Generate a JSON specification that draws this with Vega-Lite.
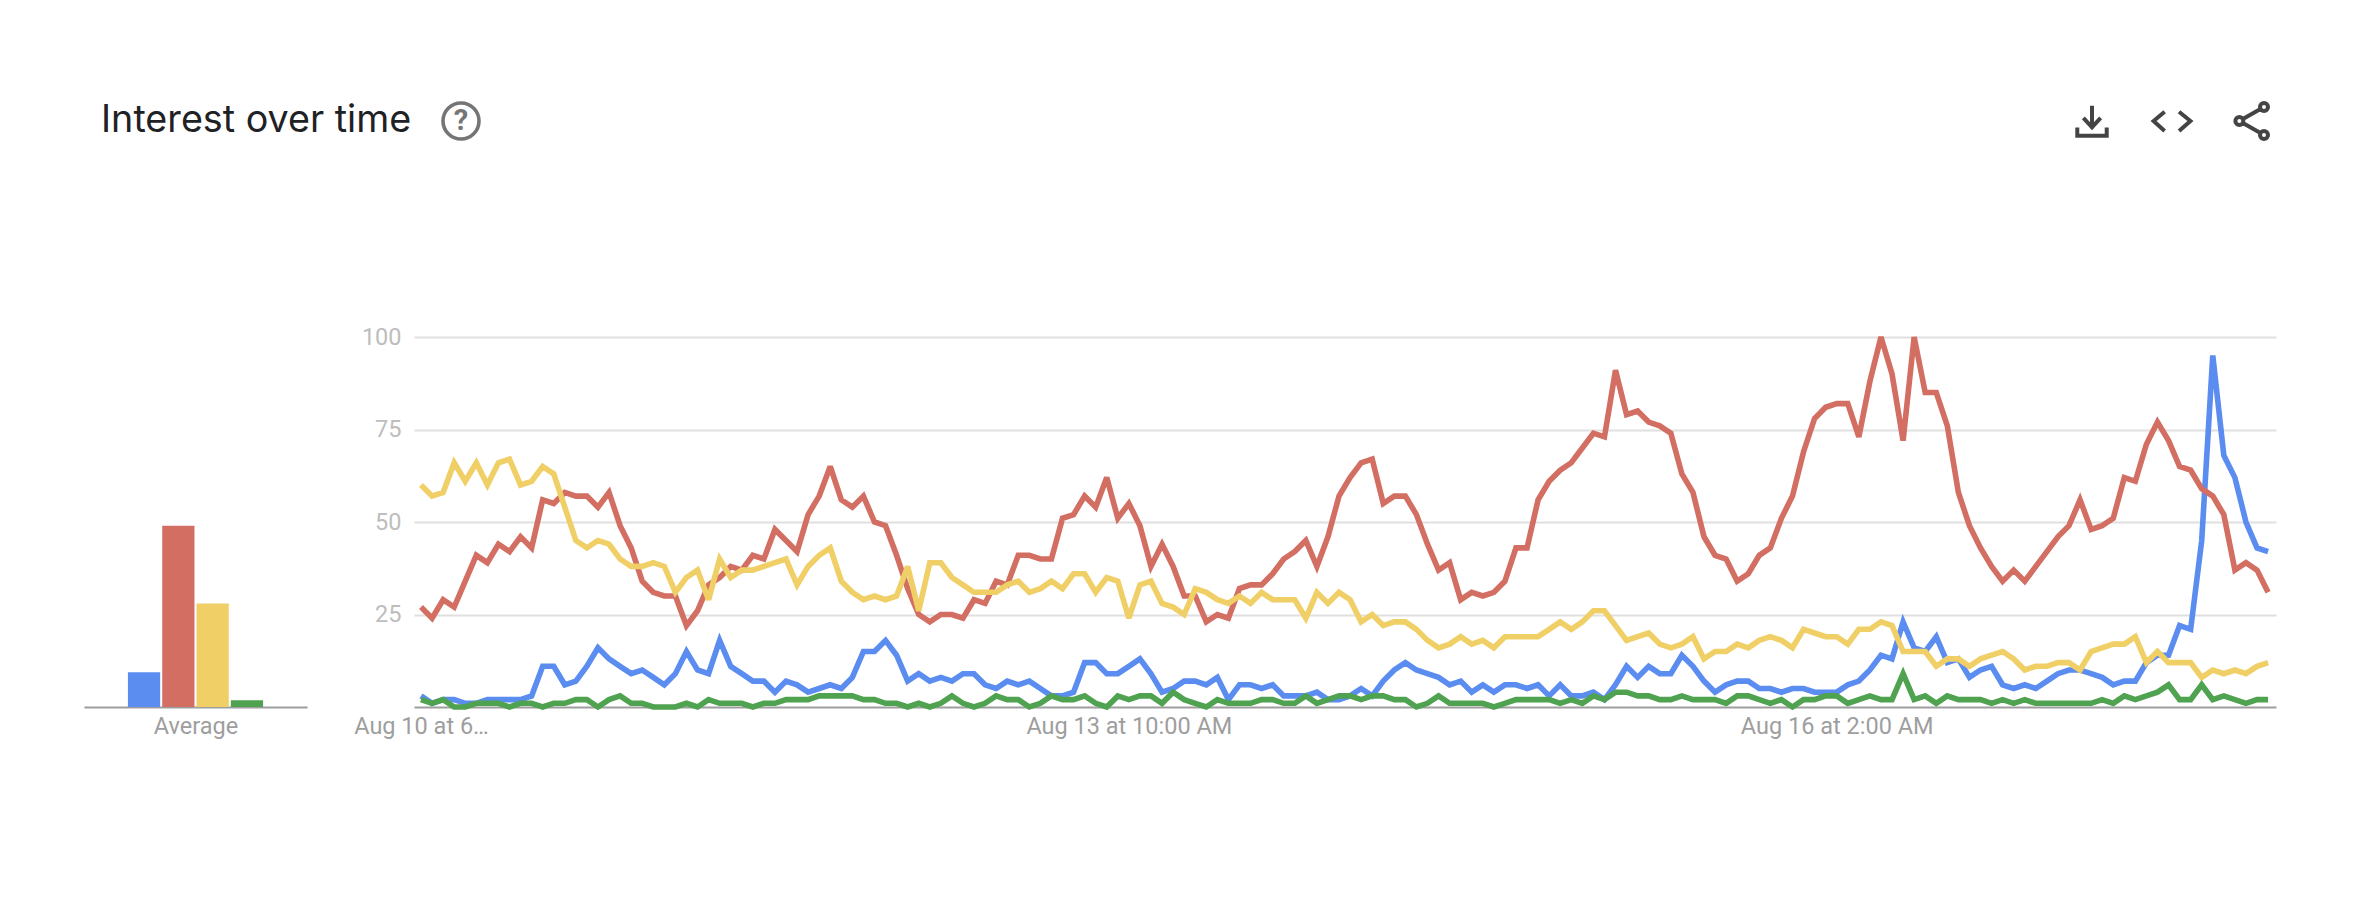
{
"$schema":"https://vega.github.io/schema/vega-lite/v6.json",
"background":"white",
"padding":{"left":84,"top":60,"right":100,"bottom":165},
"config":{"view":{"stroke":null},"font":"Roboto"},
"bounds":"flush",
"spacing":155,
"vconcat":[
{"width":2192,"height":122,
 "layer":[
  {"data":{"values":[{"label":"Interest over time"}]},
   "mark":{"type":"text","align":"left","baseline":"middle","font":"Inter","fontSize":37.7,"color":"#202124"},
   "encoding":{"x":{"field":"label","type":"nominal","axis":null,"scale":{"type":"point","domain":["Interest over time"],"range":[17,17],"padding":0}},"text":{"field":"label"}}},
  {"data":{"values":[{"icon":"help"}]},
   "mark":{"type":"point","shape":"circle","filled":false,"stroke":"#757575","strokeWidth":3.6,"size":1296,"opacity":1},
   "encoding":{"x":{"field":"icon","type":"nominal","axis":null,"scale":{"type":"point","domain":["help"],"range":[377,377],"padding":0}}}},
  {"data":{"values":[{"label":"?"}]},
   "mark":{"type":"text","align":"center","baseline":"middle","font":"Roboto","fontWeight":700,"fontSize":29,"color":"#757575"},
   "encoding":{"x":{"field":"label","type":"nominal","axis":null,"scale":{"type":"point","domain":["?"],"range":[377,377],"padding":0}},"text":{"field":"label"}}},
  {"data":{"values":[{"icon":"download"},{"icon":"code"},{"icon":"share"}]},
   "mark":{"type":"point","filled":false,"stroke":"#444444","strokeWidth":4,"size":1024,"opacity":1},
   "encoding":{
    "x":{"field":"icon","type":"nominal","axis":null,"scale":{"type":"point","domain":["download","code","share"],"range":[2008,2168],"padding":0}},
    "shape":{"field":"icon","type":"nominal","legend":null,"scale":{"domain":["download","code","share"],"range":[
     "M0,-0.96L0,0.38M-0.54,-0.19L0,0.4L0.54,-0.19M-0.92,0.4L-0.92,0.92L0.92,0.92L0.92,0.4",
     "M-0.46,-0.58L-1.15,0L-0.46,0.62M0.44,-0.58L1.15,0L0.44,0.62",
     "M-1.04,0a0.25,0.25 0 1,0 0.5,0a0.25,0.25 0 1,0 -0.5,0M0.5,-0.875a0.25,0.25 0 1,0 0.5,0a0.25,0.25 0 1,0 -0.5,0M0.5,0.875a0.25,0.25 0 1,0 0.5,0a0.25,0.25 0 1,0 -0.5,0M-0.57,-0.12L0.53,-0.75M-0.57,0.12L0.53,0.75"
    ]}}}}
 ],
 "resolve":{"scale":{"x":"independent"}}
},
{"bounds":"flush","spacing":107,
 "resolve":{"scale":{"color":"shared","y":"independent"}},
 "hconcat":[
 {"width":223,"height":370,
  "data":{"values":[{"term":"Blue","average":9.4},{"term":"Red","average":49},{"term":"Yellow","average":28},{"term":"Green","average":1.8}]},
  "mark":{"type":"bar"},
  "encoding":{
   "x":{"field":"term","type":"nominal","scale":{"domain":[" ","Blue","Red","Yellow","Green","  "],"paddingInner":0.06,"paddingOuter":0.28},
    "axis":{"labels":false,"ticks":false,"title":"Average","titleFont":"Roboto","titleFontSize":23.5,"titleFontWeight":"normal","titleColor":"#9e9e9e","titlePadding":7,"domainColor":"#9e9e9e","domainWidth":2}},
   "y":{"field":"average","type":"quantitative","scale":{"domain":[0,100]},"axis":null},
   "color":{"field":"term","type":"nominal","legend":null,"scale":{"domain":["Blue","Red","Yellow","Green"],"range":["#5b8cf0","#d36e63","#f0cf66","#4fa24f"]}}
  }},
 {"width":1862,"height":370,
  "data":{"values":[
{"t":"2020-08-10T18:00","Blue":3,"Red":27,"Yellow":60,"Green":2},
{"t":"2020-08-10T19:00","Blue":1,"Red":24,"Yellow":57,"Green":1},
{"t":"2020-08-10T20:00","Blue":2,"Red":29,"Yellow":58,"Green":2},
{"t":"2020-08-10T21:00","Blue":2,"Red":27,"Yellow":66,"Green":0},
{"t":"2020-08-10T22:00","Blue":1,"Red":34,"Yellow":61,"Green":0},
{"t":"2020-08-10T23:00","Blue":1,"Red":41,"Yellow":66,"Green":1},
{"t":"2020-08-11T00:00","Blue":2,"Red":39,"Yellow":60,"Green":1},
{"t":"2020-08-11T01:00","Blue":2,"Red":44,"Yellow":66,"Green":1},
{"t":"2020-08-11T02:00","Blue":2,"Red":42,"Yellow":67,"Green":0},
{"t":"2020-08-11T03:00","Blue":2,"Red":46,"Yellow":60,"Green":1},
{"t":"2020-08-11T04:00","Blue":3,"Red":43,"Yellow":61,"Green":1},
{"t":"2020-08-11T05:00","Blue":11,"Red":56,"Yellow":65,"Green":0},
{"t":"2020-08-11T06:00","Blue":11,"Red":55,"Yellow":63,"Green":1},
{"t":"2020-08-11T07:00","Blue":6,"Red":58,"Yellow":54,"Green":1},
{"t":"2020-08-11T08:00","Blue":7,"Red":57,"Yellow":45,"Green":2},
{"t":"2020-08-11T09:00","Blue":11,"Red":57,"Yellow":43,"Green":2},
{"t":"2020-08-11T10:00","Blue":16,"Red":54,"Yellow":45,"Green":0},
{"t":"2020-08-11T11:00","Blue":13,"Red":58,"Yellow":44,"Green":2},
{"t":"2020-08-11T12:00","Blue":11,"Red":49,"Yellow":40,"Green":3},
{"t":"2020-08-11T13:00","Blue":9,"Red":43,"Yellow":38,"Green":1},
{"t":"2020-08-11T14:00","Blue":10,"Red":34,"Yellow":38,"Green":1},
{"t":"2020-08-11T15:00","Blue":8,"Red":31,"Yellow":39,"Green":0},
{"t":"2020-08-11T16:00","Blue":6,"Red":30,"Yellow":38,"Green":0},
{"t":"2020-08-11T17:00","Blue":9,"Red":30,"Yellow":31,"Green":0},
{"t":"2020-08-11T18:00","Blue":15,"Red":22,"Yellow":35,"Green":1},
{"t":"2020-08-11T19:00","Blue":10,"Red":26,"Yellow":37,"Green":0},
{"t":"2020-08-11T20:00","Blue":9,"Red":33,"Yellow":29,"Green":2},
{"t":"2020-08-11T21:00","Blue":18,"Red":35,"Yellow":40,"Green":1},
{"t":"2020-08-11T22:00","Blue":11,"Red":38,"Yellow":35,"Green":1},
{"t":"2020-08-11T23:00","Blue":9,"Red":37,"Yellow":37,"Green":1},
{"t":"2020-08-12T00:00","Blue":7,"Red":41,"Yellow":37,"Green":0},
{"t":"2020-08-12T01:00","Blue":7,"Red":40,"Yellow":38,"Green":1},
{"t":"2020-08-12T02:00","Blue":4,"Red":48,"Yellow":39,"Green":1},
{"t":"2020-08-12T03:00","Blue":7,"Red":45,"Yellow":40,"Green":2},
{"t":"2020-08-12T04:00","Blue":6,"Red":42,"Yellow":33,"Green":2},
{"t":"2020-08-12T05:00","Blue":4,"Red":52,"Yellow":38,"Green":2},
{"t":"2020-08-12T06:00","Blue":5,"Red":57,"Yellow":41,"Green":3},
{"t":"2020-08-12T07:00","Blue":6,"Red":65,"Yellow":43,"Green":3},
{"t":"2020-08-12T08:00","Blue":5,"Red":56,"Yellow":34,"Green":3},
{"t":"2020-08-12T09:00","Blue":8,"Red":54,"Yellow":31,"Green":3},
{"t":"2020-08-12T10:00","Blue":15,"Red":57,"Yellow":29,"Green":2},
{"t":"2020-08-12T11:00","Blue":15,"Red":50,"Yellow":30,"Green":2},
{"t":"2020-08-12T12:00","Blue":18,"Red":49,"Yellow":29,"Green":1},
{"t":"2020-08-12T13:00","Blue":14,"Red":41,"Yellow":30,"Green":1},
{"t":"2020-08-12T14:00","Blue":7,"Red":32,"Yellow":38,"Green":0},
{"t":"2020-08-12T15:00","Blue":9,"Red":25,"Yellow":26,"Green":1},
{"t":"2020-08-12T16:00","Blue":7,"Red":23,"Yellow":39,"Green":0},
{"t":"2020-08-12T17:00","Blue":8,"Red":25,"Yellow":39,"Green":1},
{"t":"2020-08-12T18:00","Blue":7,"Red":25,"Yellow":35,"Green":3},
{"t":"2020-08-12T19:00","Blue":9,"Red":24,"Yellow":33,"Green":1},
{"t":"2020-08-12T20:00","Blue":9,"Red":29,"Yellow":31,"Green":0},
{"t":"2020-08-12T21:00","Blue":6,"Red":28,"Yellow":31,"Green":1},
{"t":"2020-08-12T22:00","Blue":5,"Red":34,"Yellow":31,"Green":3},
{"t":"2020-08-12T23:00","Blue":7,"Red":33,"Yellow":33,"Green":2},
{"t":"2020-08-13T00:00","Blue":6,"Red":41,"Yellow":34,"Green":2},
{"t":"2020-08-13T01:00","Blue":7,"Red":41,"Yellow":31,"Green":0},
{"t":"2020-08-13T02:00","Blue":5,"Red":40,"Yellow":32,"Green":1},
{"t":"2020-08-13T03:00","Blue":3,"Red":40,"Yellow":34,"Green":3},
{"t":"2020-08-13T04:00","Blue":3,"Red":51,"Yellow":32,"Green":2},
{"t":"2020-08-13T05:00","Blue":4,"Red":52,"Yellow":36,"Green":2},
{"t":"2020-08-13T06:00","Blue":12,"Red":57,"Yellow":36,"Green":3},
{"t":"2020-08-13T07:00","Blue":12,"Red":54,"Yellow":31,"Green":1},
{"t":"2020-08-13T08:00","Blue":9,"Red":62,"Yellow":35,"Green":0},
{"t":"2020-08-13T09:00","Blue":9,"Red":51,"Yellow":34,"Green":3},
{"t":"2020-08-13T10:00","Blue":11,"Red":55,"Yellow":24,"Green":2},
{"t":"2020-08-13T11:00","Blue":13,"Red":49,"Yellow":33,"Green":3},
{"t":"2020-08-13T12:00","Blue":9,"Red":38,"Yellow":34,"Green":3},
{"t":"2020-08-13T13:00","Blue":4,"Red":44,"Yellow":28,"Green":1},
{"t":"2020-08-13T14:00","Blue":5,"Red":38,"Yellow":27,"Green":4},
{"t":"2020-08-13T15:00","Blue":7,"Red":30,"Yellow":25,"Green":2},
{"t":"2020-08-13T16:00","Blue":7,"Red":30,"Yellow":32,"Green":1},
{"t":"2020-08-13T17:00","Blue":6,"Red":23,"Yellow":31,"Green":0},
{"t":"2020-08-13T18:00","Blue":8,"Red":25,"Yellow":29,"Green":2},
{"t":"2020-08-13T19:00","Blue":2,"Red":24,"Yellow":28,"Green":1},
{"t":"2020-08-13T20:00","Blue":6,"Red":32,"Yellow":30,"Green":1},
{"t":"2020-08-13T21:00","Blue":6,"Red":33,"Yellow":28,"Green":1},
{"t":"2020-08-13T22:00","Blue":5,"Red":33,"Yellow":31,"Green":2},
{"t":"2020-08-13T23:00","Blue":6,"Red":36,"Yellow":29,"Green":2},
{"t":"2020-08-14T00:00","Blue":3,"Red":40,"Yellow":29,"Green":1},
{"t":"2020-08-14T01:00","Blue":3,"Red":42,"Yellow":29,"Green":1},
{"t":"2020-08-14T02:00","Blue":3,"Red":45,"Yellow":24,"Green":3},
{"t":"2020-08-14T03:00","Blue":4,"Red":38,"Yellow":31,"Green":1},
{"t":"2020-08-14T04:00","Blue":2,"Red":46,"Yellow":28,"Green":2},
{"t":"2020-08-14T05:00","Blue":2,"Red":57,"Yellow":31,"Green":3},
{"t":"2020-08-14T06:00","Blue":3,"Red":62,"Yellow":29,"Green":3},
{"t":"2020-08-14T07:00","Blue":5,"Red":66,"Yellow":23,"Green":2},
{"t":"2020-08-14T08:00","Blue":3,"Red":67,"Yellow":25,"Green":3},
{"t":"2020-08-14T09:00","Blue":7,"Red":55,"Yellow":22,"Green":3},
{"t":"2020-08-14T10:00","Blue":10,"Red":57,"Yellow":23,"Green":2},
{"t":"2020-08-14T11:00","Blue":12,"Red":57,"Yellow":23,"Green":2},
{"t":"2020-08-14T12:00","Blue":10,"Red":52,"Yellow":21,"Green":0},
{"t":"2020-08-14T13:00","Blue":9,"Red":44,"Yellow":18,"Green":1},
{"t":"2020-08-14T14:00","Blue":8,"Red":37,"Yellow":16,"Green":3},
{"t":"2020-08-14T15:00","Blue":6,"Red":39,"Yellow":17,"Green":1},
{"t":"2020-08-14T16:00","Blue":7,"Red":29,"Yellow":19,"Green":1},
{"t":"2020-08-14T17:00","Blue":4,"Red":31,"Yellow":17,"Green":1},
{"t":"2020-08-14T18:00","Blue":6,"Red":30,"Yellow":18,"Green":1},
{"t":"2020-08-14T19:00","Blue":4,"Red":31,"Yellow":16,"Green":0},
{"t":"2020-08-14T20:00","Blue":6,"Red":34,"Yellow":19,"Green":1},
{"t":"2020-08-14T21:00","Blue":6,"Red":43,"Yellow":19,"Green":2},
{"t":"2020-08-14T22:00","Blue":5,"Red":43,"Yellow":19,"Green":2},
{"t":"2020-08-14T23:00","Blue":6,"Red":56,"Yellow":19,"Green":2},
{"t":"2020-08-15T00:00","Blue":3,"Red":61,"Yellow":21,"Green":2},
{"t":"2020-08-15T01:00","Blue":6,"Red":64,"Yellow":23,"Green":1},
{"t":"2020-08-15T02:00","Blue":3,"Red":66,"Yellow":21,"Green":2},
{"t":"2020-08-15T03:00","Blue":3,"Red":70,"Yellow":23,"Green":1},
{"t":"2020-08-15T04:00","Blue":4,"Red":74,"Yellow":26,"Green":3},
{"t":"2020-08-15T05:00","Blue":2,"Red":73,"Yellow":26,"Green":2},
{"t":"2020-08-15T06:00","Blue":6,"Red":91,"Yellow":22,"Green":4},
{"t":"2020-08-15T07:00","Blue":11,"Red":79,"Yellow":18,"Green":4},
{"t":"2020-08-15T08:00","Blue":8,"Red":80,"Yellow":19,"Green":3},
{"t":"2020-08-15T09:00","Blue":11,"Red":77,"Yellow":20,"Green":3},
{"t":"2020-08-15T10:00","Blue":9,"Red":76,"Yellow":17,"Green":2},
{"t":"2020-08-15T11:00","Blue":9,"Red":74,"Yellow":16,"Green":2},
{"t":"2020-08-15T12:00","Blue":14,"Red":63,"Yellow":17,"Green":3},
{"t":"2020-08-15T13:00","Blue":11,"Red":58,"Yellow":19,"Green":2},
{"t":"2020-08-15T14:00","Blue":7,"Red":46,"Yellow":13,"Green":2},
{"t":"2020-08-15T15:00","Blue":4,"Red":41,"Yellow":15,"Green":2},
{"t":"2020-08-15T16:00","Blue":6,"Red":40,"Yellow":15,"Green":1},
{"t":"2020-08-15T17:00","Blue":7,"Red":34,"Yellow":17,"Green":3},
{"t":"2020-08-15T18:00","Blue":7,"Red":36,"Yellow":16,"Green":3},
{"t":"2020-08-15T19:00","Blue":5,"Red":41,"Yellow":18,"Green":2},
{"t":"2020-08-15T20:00","Blue":5,"Red":43,"Yellow":19,"Green":1},
{"t":"2020-08-15T21:00","Blue":4,"Red":51,"Yellow":18,"Green":2},
{"t":"2020-08-15T22:00","Blue":5,"Red":57,"Yellow":16,"Green":0},
{"t":"2020-08-15T23:00","Blue":5,"Red":69,"Yellow":21,"Green":2},
{"t":"2020-08-16T00:00","Blue":4,"Red":78,"Yellow":20,"Green":2},
{"t":"2020-08-16T01:00","Blue":4,"Red":81,"Yellow":19,"Green":3},
{"t":"2020-08-16T02:00","Blue":4,"Red":82,"Yellow":19,"Green":3},
{"t":"2020-08-16T03:00","Blue":6,"Red":82,"Yellow":17,"Green":1},
{"t":"2020-08-16T04:00","Blue":7,"Red":73,"Yellow":21,"Green":2},
{"t":"2020-08-16T05:00","Blue":10,"Red":88,"Yellow":21,"Green":3},
{"t":"2020-08-16T06:00","Blue":14,"Red":100,"Yellow":23,"Green":2},
{"t":"2020-08-16T07:00","Blue":13,"Red":90,"Yellow":22,"Green":2},
{"t":"2020-08-16T08:00","Blue":23,"Red":72,"Yellow":15,"Green":9},
{"t":"2020-08-16T09:00","Blue":16,"Red":100,"Yellow":15,"Green":2},
{"t":"2020-08-16T10:00","Blue":15,"Red":85,"Yellow":15,"Green":3},
{"t":"2020-08-16T11:00","Blue":19,"Red":85,"Yellow":11,"Green":1},
{"t":"2020-08-16T12:00","Blue":12,"Red":76,"Yellow":13,"Green":3},
{"t":"2020-08-16T13:00","Blue":13,"Red":58,"Yellow":13,"Green":2},
{"t":"2020-08-16T14:00","Blue":8,"Red":49,"Yellow":11,"Green":2},
{"t":"2020-08-16T15:00","Blue":10,"Red":43,"Yellow":13,"Green":2},
{"t":"2020-08-16T16:00","Blue":11,"Red":38,"Yellow":14,"Green":1},
{"t":"2020-08-16T17:00","Blue":6,"Red":34,"Yellow":15,"Green":2},
{"t":"2020-08-16T18:00","Blue":5,"Red":37,"Yellow":13,"Green":1},
{"t":"2020-08-16T19:00","Blue":6,"Red":34,"Yellow":10,"Green":2},
{"t":"2020-08-16T20:00","Blue":5,"Red":38,"Yellow":11,"Green":1},
{"t":"2020-08-16T21:00","Blue":7,"Red":42,"Yellow":11,"Green":1},
{"t":"2020-08-16T22:00","Blue":9,"Red":46,"Yellow":12,"Green":1},
{"t":"2020-08-16T23:00","Blue":10,"Red":49,"Yellow":12,"Green":1},
{"t":"2020-08-17T00:00","Blue":10,"Red":56,"Yellow":10,"Green":1},
{"t":"2020-08-17T01:00","Blue":9,"Red":48,"Yellow":15,"Green":1},
{"t":"2020-08-17T02:00","Blue":8,"Red":49,"Yellow":16,"Green":2},
{"t":"2020-08-17T03:00","Blue":6,"Red":51,"Yellow":17,"Green":1},
{"t":"2020-08-17T04:00","Blue":7,"Red":62,"Yellow":17,"Green":3},
{"t":"2020-08-17T05:00","Blue":7,"Red":61,"Yellow":19,"Green":2},
{"t":"2020-08-17T06:00","Blue":12,"Red":71,"Yellow":12,"Green":3},
{"t":"2020-08-17T07:00","Blue":14,"Red":77,"Yellow":15,"Green":4},
{"t":"2020-08-17T08:00","Blue":14,"Red":72,"Yellow":12,"Green":6},
{"t":"2020-08-17T09:00","Blue":22,"Red":65,"Yellow":12,"Green":2},
{"t":"2020-08-17T10:00","Blue":21,"Red":64,"Yellow":12,"Green":2},
{"t":"2020-08-17T11:00","Blue":45,"Red":59,"Yellow":8,"Green":6},
{"t":"2020-08-17T12:00","Blue":95,"Red":57,"Yellow":10,"Green":2},
{"t":"2020-08-17T13:00","Blue":68,"Red":52,"Yellow":9,"Green":3},
{"t":"2020-08-17T14:00","Blue":62,"Red":37,"Yellow":10,"Green":2},
{"t":"2020-08-17T15:00","Blue":50,"Red":39,"Yellow":9,"Green":1},
{"t":"2020-08-17T16:00","Blue":43,"Red":37,"Yellow":11,"Green":2},
{"t":"2020-08-17T17:00","Blue":42,"Red":31,"Yellow":12,"Green":2}
  ]},
  "transform":[{"fold":["Blue","Red","Yellow","Green"],"as":["term","value"]}],
  "mark":{"type":"line","strokeWidth":5.6,"strokeJoin":"miter","strokeMiterLimit":3,"clip":false},
  "encoding":{
   "x":{"field":"t","type":"temporal","scale":{"domain":[{"year":2020,"month":"aug","date":10,"hours":17,"minutes":22},{"year":2020,"month":"aug","date":17,"hours":17,"minutes":43}]},
    "axis":{"title":null,"grid":false,"ticks":false,"values":[{"year":2020,"month":"aug","date":10,"hours":18},{"year":2020,"month":"aug","date":13,"hours":10},{"year":2020,"month":"aug","date":16,"hours":2}],
     "labelExpr":"datum.index==0 ? 'Aug 10 at 6…' : timeFormat(datum.value,'%b %-d at %-I:%M %p')",
     "labelFont":"Roboto","labelFontSize":23.5,"labelColor":"#9e9e9e","labelPadding":7,"labelLimit":500,"labelOverlap":false,"labelFlush":false,"labelBound":false,"domainColor":"#9e9e9e","domainWidth":2}},
   "y":{"field":"value","type":"quantitative","scale":{"domain":[0,100]},
    "axis":{"title":null,"domain":false,"ticks":false,"values":[25,50,75,100],"grid":true,"gridColor":"#e0e0e0","gridWidth":2,"labelFont":"Roboto","labelFontSize":23.5,"labelColor":"#bdbdbd","labelPadding":13}},
   "color":{"field":"term","type":"nominal","legend":null,"sort":["Blue","Red","Yellow","Green"],"scale":{"domain":["Blue","Red","Yellow","Green"],"range":["#5b8cf0","#d36e63","#f0cf66","#4fa24f"]}}
  }}
 ]}
]}
